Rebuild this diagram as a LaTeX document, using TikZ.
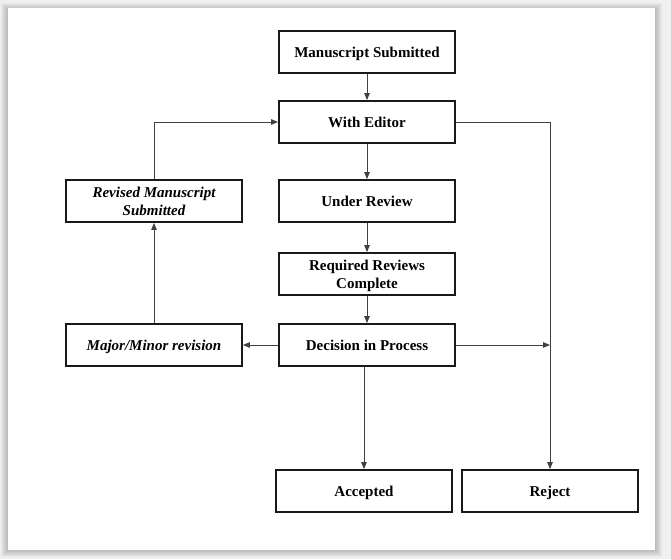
\documentclass[tikz,border=0pt]{standalone}
\usepackage{fontspec}
\setmainfont{Liberation Serif}
\usetikzlibrary{arrows.meta}

\begin{document}
\begin{tikzpicture}[x=1pt,y=-1pt,
  box/.style={draw=black!90,line width=1.8pt,minimum width=176pt,minimum height=42pt,
    inner sep=2pt,text depth=0pt,align=center,font=\fontsize{15}{18}\selectfont\bfseries},
  link/.style={draw=black!75,line width=0.9pt,-{Triangle[length=7pt,width=5.5pt]}}]
  % page and frame
  \fill[black!6] (0,0) rectangle (671,559);
  \foreach \i in {1,...,7} \fill[black,opacity=0.03] (8-\i,8-\i+2) rectangle (655+\i,550+\i);
  \fill[white] (8,8) rectangle (655,550);
  \useasboundingbox (0,0) rectangle (671,559);
  % main column
  \node[box] (submitted) at (367,52) {Manuscript Submitted};
  \node[box] (editor) at (367,122) {With Editor};
  \node[box] (review) at (367,201) {Under Review};
  \node[box] (complete) at (367,274) {Required Reviews\\Complete};
  \node[box] (decision) at (367,345) {Decision in Process};
  % revision loop
  \node[box,font=\fontsize{15}{18}\selectfont\bfseries\itshape] (revision) at (154,345) {Major/Minor revision};
  \node[box,font=\fontsize{15}{18}\selectfont\bfseries\itshape] (revised) at (154,201) {Revised Manuscript\\Submitted};
  % outcomes
  \node[box] (accepted) at (364,491) {Accepted};
  \node[box] (reject) at (550,491) {Reject};
  \coordinate (turn) at (reject.north |- editor.east);
  % connectors
  \draw[link] (submitted) -- (editor);
  \draw[link] (editor) -- (review);
  \draw[link] (review) -- (complete);
  \draw[link] (complete) -- (decision);
  \draw[link] (decision) -- (revision);
  \draw[link] (revision) -- (revised);
  \draw[link] (revised.north) |- (editor.west);
  \draw[link] (editor.east) -- (turn) -- (reject.north);
  \draw[link] (decision.east) -- (decision.east -| turn);
  \draw[link] (decision.south -| accepted.north) -- (accepted.north);
\end{tikzpicture}
\end{document}
